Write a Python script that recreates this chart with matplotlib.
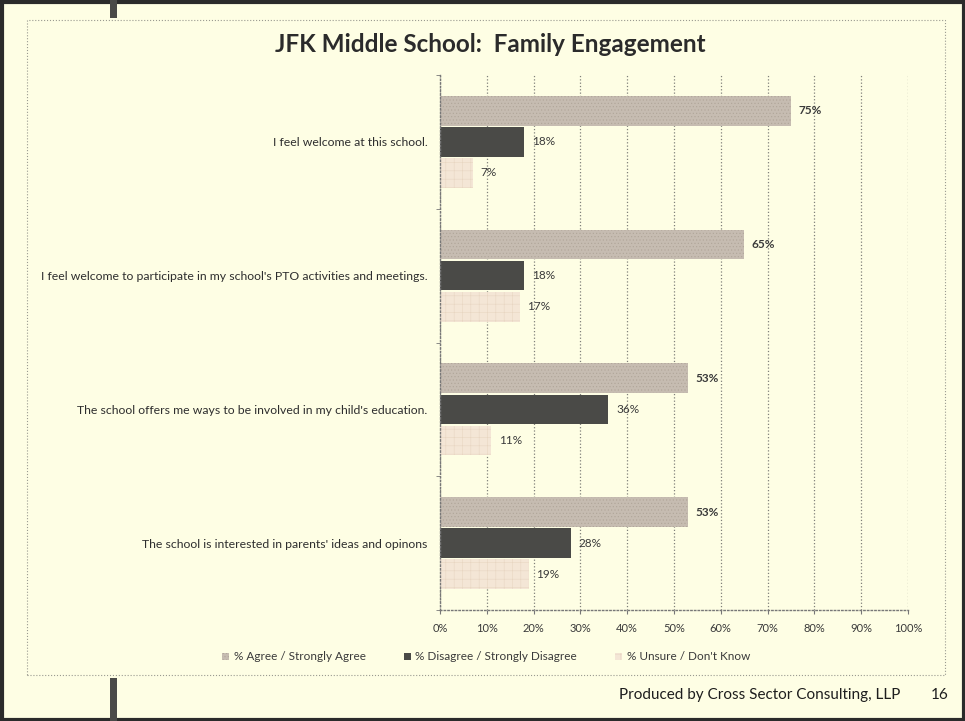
import numpy as np
import matplotlib.pyplot as plt
from matplotlib.patches import Rectangle

plt.rcParams['font.family'] = ['Lato', 'DejaVu Sans']
plt.rcParams['hatch.linewidth'] = 0.4

questions = [
    "I feel welcome at this school.",
    "I feel welcome to participate in my school's PTO activities and meetings.",
    "The school offers me ways to be involved in my child's education.",
    "The school is interested in parents' ideas and opinons",
]
agree = [75, 65, 53, 53]
disagree = [18, 18, 36, 28]
unsure = [7, 17, 11, 19]
series_names = ["% Agree / Strongly Agree", "% Disagree / Strongly Disagree", "% Unsure / Don't Know"]
x_ticks = [0, 10, 20, 30, 40, 50, 60, 70, 80, 90, 100]

bg = '#fefee4'
colors = ['#c6bcb1', '#4a4a47', '#f4e6d6']
hatch_colors = ['#b0a598', '#3a3a38', '#e8d6c2']
hatches = ['.....', None, '++']

W, H = 965, 721
fig = plt.figure(figsize=(W / 100, H / 100), dpi=100, facecolor=bg)

# slide frame
fig.add_artist(Rectangle((1.5 / W, 1.5 / H), (W - 3) / W, (H - 3) / H, transform=fig.transFigure,
                         fill=False, edgecolor='#2b2b2b', linewidth=3))
fig.add_artist(Rectangle((27 / W, (H - 675) / H), 918 / W, 655 / H, transform=fig.transFigure,
                         fill=False, edgecolor='#9a9a90', linewidth=0.8, linestyle=':'))
fig.add_artist(Rectangle((110 / W, (H - 18) / H), 7 / W, 18 / H, transform=fig.transFigure,
                         facecolor='#4a4a48', edgecolor='none'))
fig.add_artist(Rectangle((110 / W, 0), 7 / W, (H - 678) / H, transform=fig.transFigure,
                         facecolor='#4a4a48', edgecolor='none'))

ax = fig.add_axes([440 / W, (H - 610) / H, 468 / W, 535 / H])
ax.set_facecolor('none')

y = np.arange(len(questions))
h = 0.222
offsets = [-0.232, 0.0, 0.232]
for vals, off, c, hc, hat, bold in zip([agree, disagree, unsure], offsets, colors, hatch_colors, hatches,
                                       [True, False, False]):
    ax.barh(y + off, vals, height=h, color=c, edgecolor=hc, hatch=hat, linewidth=0)
    for v, yy in zip(vals, y + off):
        ax.text(v + 1.6, yy, f"{v}%", va='center', ha='left', fontsize=8.5,
                color='#3a3a3a', fontweight='bold' if bold else 'normal')

ax.set_xlim(0, 100)
ax.set_ylim(len(questions) - 0.5, -0.5)
ax.set_xticks(x_ticks)
ax.set_xticklabels([f"{t}%" for t in x_ticks], fontsize=8, color='#3a3a3a')
ax.set_yticks(y)
ax.set_yticklabels(questions, fontsize=8.8, color='#2e2e2e')
ax.set_yticks(np.arange(len(questions) + 1) - 0.5, minor=True)
ax.tick_params(axis='y', which='major', length=0, pad=9)
ax.tick_params(axis='y', which='minor', length=3, color='#777777')
ax.tick_params(axis='x', length=3, color='#777777', pad=6)
ax.grid(axis='x', color='#80807a', linestyle=':', linewidth=0.9)
ax.set_axisbelow(True)
for s in ['top', 'right']:
    ax.spines[s].set_visible(False)
for s in ['left', 'bottom']:
    ax.spines[s].set_color('#777777')
    ax.spines[s].set_linestyle(':')
    ax.spines[s].set_linewidth(1.0)

fig.text(490 / W, 1 - 45 / H, "JFK Middle School:  Family Engagement", ha='center', va='center',
         fontsize=17.5, fontweight='bold', color='#2b2b2b')

handles = [Rectangle((0, 0), 1, 1, facecolor=c, edgecolor=hc, hatch=hat, linewidth=0)
           for c, hc, hat in zip(colors, hatch_colors, hatches)]
fig.legend(handles, series_names, loc='center', bbox_to_anchor=(486 / W, 1 - 657 / H), ncol=3,
           frameon=False, fontsize=8.5, handlelength=0.6, handleheight=0.6, handletextpad=0.4,
           columnspacing=3.2, labelcolor='#3a3a3a')

fig.text(900 / W, 1 - 695 / H, "Produced by Cross Sector Consulting, LLP", ha='right', va='center',
         fontsize=11, color='#1e1e1e')
fig.text(940 / W, 1 - 695 / H, "16", ha='center', va='center', fontsize=11, color='#1e1e1e')

fig.savefig('out.png', dpi=100, facecolor=bg)
